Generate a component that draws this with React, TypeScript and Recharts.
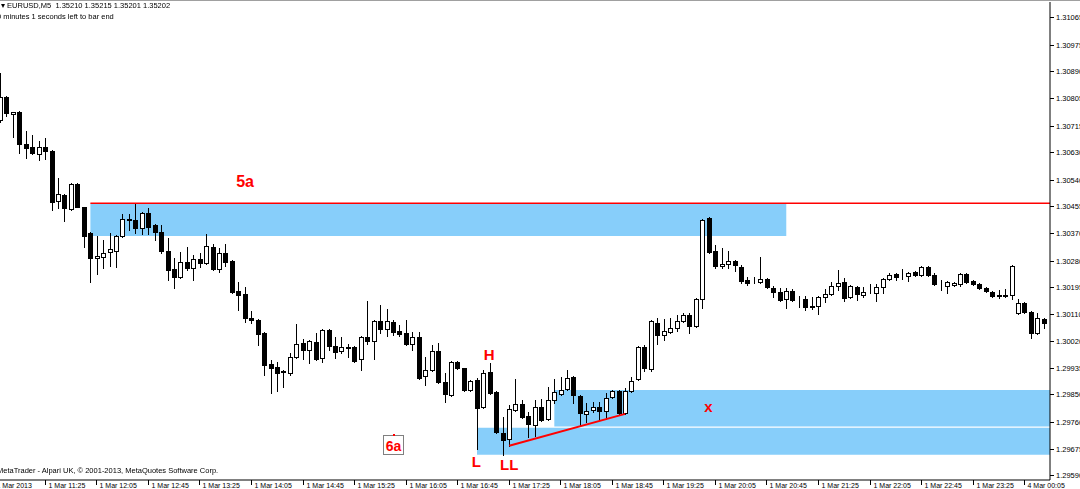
import React from "react";
import { Bar, ComposedChart, ReferenceArea, ReferenceDot, ReferenceLine, XAxis, YAxis } from "recharts";

// EURUSD M5, 1 Mar 2013 10:50 .. 4 Mar 00:25 (bar index 0..162)
const opens = [
  1.30734, 1.30808, 1.30753, 1.30759, 1.30656, 1.30647, 1.30624, 1.30647, 1.30634, 1.30473,
  1.30492, 1.30447, 1.30527, 1.30453, 1.3037, 1.30289, 1.30292, 1.30309, 1.30312, 1.3036,
  1.30415, 1.30412, 1.30386, 1.30434, 1.30396, 1.30373, 1.30312, 1.30254, 1.30228, 1.30276,
  1.30257, 1.30286, 1.30273, 1.30325, 1.30254, 1.30305, 1.3028, 1.30183, 1.30173, 1.30096,
  1.3009, 1.30048, 1.29948, 1.29938, 1.29925, 1.29919, 1.2997, 1.30016, 1.29993, 1.30019,
  1.29967, 1.30057, 1.30006, 1.2999, 1.30003, 1.30003, 1.29964, 1.30035, 1.30022, 1.30086,
  1.30061, 1.30083, 1.30054, 1.30048, 1.30012, 1.30035, 1.29909, 1.29929, 1.2999, 1.2989,
  1.29848, 1.29954, 1.29935, 1.29864, 1.29896, 1.29809, 1.29922, 1.29858, 1.29726, 1.29706,
  1.298, 1.29819, 1.2978, 1.29752, 1.2981, 1.29771, 1.29832, 1.29851, 1.29867, 1.29906,
  1.29845, 1.29787, 1.298, 1.2981, 1.29797, 1.29842, 1.29861, 1.2979, 1.29861, 1.299,
  1.30003, 1.29932, 1.3008, 1.30041, 1.30051, 1.30064, 1.30086, 1.30106, 1.3007, 1.30157,
  1.30418, 1.30312, 1.30263, 1.3027, 1.3028, 1.3026, 1.30218, 1.30212, 1.30212, 1.30222,
  1.30193, 1.3018, 1.30157, 1.30183, 1.30157, 1.30157, 1.30135, 1.30135, 1.30164, 1.30173,
  1.30199, 1.30212, 1.30164, 1.30196, 1.3017, 1.3018, 1.30177, 1.30196, 1.30222, 1.30238,
  1.30235, 1.30231, 1.30244, 1.30235, 1.3026, 1.30235, 1.30209, 1.30199, 1.30202, 1.30206,
  1.30238, 1.30215, 1.30206, 1.30193, 1.3018, 1.3017, 1.3017, 1.3017, 1.30112, 1.30144,
  1.30115, 1.30048, 1.30093,
];
const highs = [
  1.30885, 1.30811, 1.30759, 1.30763, 1.30698, 1.30685, 1.30666, 1.30676, 1.30637, 1.30547,
  1.30495, 1.30531, 1.3053, 1.30453, 1.30373, 1.3036, 1.30347, 1.3037, 1.30363, 1.30431,
  1.30431, 1.30466, 1.30437, 1.3045, 1.30399, 1.30396, 1.30354, 1.30289, 1.30309, 1.30325,
  1.30299, 1.30305, 1.30366, 1.30334, 1.30321, 1.30334, 1.30283, 1.30212, 1.30196, 1.30119,
  1.30093, 1.30051, 1.29961, 1.29954, 1.29929, 1.29983, 1.30077, 1.30028, 1.30025, 1.30048,
  1.30061, 1.30061, 1.30035, 1.30035, 1.30012, 1.30006, 1.30038, 1.30151, 1.3009, 1.30138,
  1.30125, 1.3009, 1.30074, 1.3009, 1.30051, 1.30051, 1.2997, 1.30009, 1.30016, 1.29919,
  1.29958, 1.29958, 1.29936, 1.29896, 1.29903, 1.29929, 1.29951, 1.29861, 1.29777, 1.29816,
  1.299, 1.29832, 1.29793, 1.29832, 1.29835, 1.29874, 1.299, 1.29906, 1.29929, 1.29909,
  1.29848, 1.29822, 1.29826, 1.29826, 1.29855, 1.29864, 1.29864, 1.29871, 1.29906, 1.30006,
  1.30009, 1.3009, 1.30096, 1.30093, 1.30096, 1.30106, 1.30112, 1.30112, 1.3016, 1.30415,
  1.30421, 1.30331, 1.30321, 1.30312, 1.30283, 1.30267, 1.30228, 1.30228, 1.30292, 1.30225,
  1.30199, 1.30193, 1.30193, 1.30189, 1.30167, 1.30167, 1.30164, 1.30167, 1.30189, 1.30212,
  1.30251, 1.30225, 1.30202, 1.30199, 1.30196, 1.30205, 1.30205, 1.30225, 1.30241, 1.30241,
  1.30254, 1.30244, 1.30247, 1.30263, 1.30263, 1.30241, 1.30218, 1.30215, 1.30212, 1.30241,
  1.30241, 1.30218, 1.30209, 1.30196, 1.30183, 1.30186, 1.30189, 1.30267, 1.30157, 1.30148,
  1.30119, 1.30112, 1.30096,
];
const lows = [
  1.30727, 1.30746, 1.30679, 1.30627, 1.30611, 1.30624, 1.30605, 1.30608, 1.30444, 1.3045,
  1.30408, 1.30444, 1.30453, 1.30325, 1.30212, 1.30238, 1.30257, 1.30263, 1.3026, 1.30357,
  1.30379, 1.3037, 1.30366, 1.30366, 1.30347, 1.30305, 1.30218, 1.30193, 1.30225, 1.30251,
  1.30218, 1.3026, 1.3027, 1.30251, 1.30244, 1.30263, 1.30177, 1.30122, 1.30083, 1.3008,
  1.30009, 1.29913, 1.29855, 1.29861, 1.29874, 1.29913, 1.29967, 1.29964, 1.29951, 1.29961,
  1.29954, 1.29993, 1.29967, 1.29983, 1.2997, 1.29954, 1.29929, 1.30012, 1.29964, 1.30048,
  1.30038, 1.30041, 1.30038, 1.30009, 1.29993, 1.299, 1.2988, 1.29925, 1.29887, 1.29826,
  1.29845, 1.29932, 1.29861, 1.29861, 1.29674, 1.29806, 1.29851, 1.29726, 1.29655, 1.29684,
  1.29797, 1.29774, 1.29713, 1.29716, 1.29764, 1.29768, 1.29822, 1.29848, 1.29864, 1.29822,
  1.29751, 1.29761, 1.29793, 1.29768, 1.29771, 1.29838, 1.29787, 1.29787, 1.29858, 1.29896,
  1.29925, 1.29925, 1.30012, 1.30025, 1.30048, 1.30054, 1.30083, 1.30048, 1.30067, 1.30128,
  1.30305, 1.30257, 1.30257, 1.30257, 1.30247, 1.30209, 1.30202, 1.30209, 1.30209, 1.30193,
  1.30164, 1.30151, 1.30128, 1.30151, 1.30131, 1.30122, 1.30125, 1.30109, 1.30148, 1.3017,
  1.30186, 1.30151, 1.3016, 1.30154, 1.30164, 1.30177, 1.30151, 1.30177, 1.30218, 1.30218,
  1.30222, 1.30215, 1.30231, 1.30231, 1.30231, 1.30202, 1.30186, 1.30177, 1.30199, 1.30199,
  1.30209, 1.30202, 1.30189, 1.3018, 1.30164, 1.3016, 1.30164, 1.30157, 1.30109, 1.30112,
  1.30032, 1.30045, 1.30064,
];
const closes = [
  1.30808, 1.30756, 1.30759, 1.30656, 1.30643, 1.30627, 1.30647, 1.30634, 1.3047, 1.30495,
  1.3045, 1.30527, 1.30453, 1.3036, 1.30289, 1.30296, 1.30305, 1.30318, 1.3036, 1.30415,
  1.30412, 1.30386, 1.30434, 1.30389, 1.30373, 1.30312, 1.30251, 1.30228, 1.30276, 1.30257,
  1.30286, 1.30273, 1.30328, 1.30254, 1.30305, 1.30276, 1.3018, 1.3017, 1.30096, 1.3009,
  1.30045, 1.29945, 1.29935, 1.29919, 1.29922, 1.2997, 1.30012, 1.29993, 1.30022, 1.29964,
  1.30057, 1.30006, 1.29987, 1.30003, 1.3, 1.29958, 1.30035, 1.30022, 1.30086, 1.30061,
  1.30086, 1.30051, 1.30045, 1.30012, 1.30035, 1.29903, 1.29929, 1.2999, 1.2989, 1.29851,
  1.29954, 1.29935, 1.29864, 1.29893, 1.29806, 1.29919, 1.29855, 1.29729, 1.29703, 1.29803,
  1.29819, 1.29777, 1.29755, 1.2981, 1.29768, 1.29832, 1.29858, 1.29864, 1.29903, 1.29848,
  1.2979, 1.29797, 1.2981, 1.29797, 1.29838, 1.29861, 1.2979, 1.29861, 1.29893, 1.30003,
  1.29935, 1.30086, 1.30041, 1.30054, 1.30064, 1.30086, 1.30106, 1.3007, 1.30157, 1.30412,
  1.30309, 1.30263, 1.3027, 1.3028, 1.30267, 1.30215, 1.30209, 1.30211, 1.30222, 1.30196,
  1.3018, 1.30154, 1.30183, 1.30154, 1.30156, 1.30131, 1.30131, 1.30164, 1.30173, 1.30199,
  1.30209, 1.3016, 1.30199, 1.30173, 1.3018, 1.30178, 1.30196, 1.30222, 1.30235, 1.30228,
  1.30233, 1.30241, 1.30235, 1.3026, 1.30235, 1.30206, 1.30207, 1.30212, 1.30209, 1.30238,
  1.30212, 1.30206, 1.30193, 1.30183, 1.30167, 1.30168, 1.30168, 1.30263, 1.30144, 1.30115,
  1.30048, 1.30096, 1.3008,
];

const timeTicks = [-1, 7, 15, 23, 31, 39, 47, 55, 63, 71, 79, 87, 95, 103, 111, 119, 127, 135, 143, 151, 159];
const timeLabels = [
  "1 Mar 2013", "1 Mar 11:25", "1 Mar 12:05", "1 Mar 12:45", "1 Mar 13:25", "1 Mar 14:05", "1 Mar 14:45",
  "1 Mar 15:25", "1 Mar 16:05", "1 Mar 16:45", "1 Mar 17:25", "1 Mar 18:05", "1 Mar 18:45", "1 Mar 19:25",
  "1 Mar 20:05", "1 Mar 20:45", "1 Mar 21:25", "1 Mar 22:05", "1 Mar 22:45", "1 Mar 23:25", "4 Mar 00:05",
];
const priceTicks = [
  1.31065, 1.30975, 1.3089, 1.30805, 1.30715, 1.3063, 1.3054, 1.30455, 1.3037,
  1.3028, 1.30195, 1.3011, 1.3002, 1.29935, 1.2985, 1.2976, 1.29675, 1.2959,
];

const rows = opens.map((o, i) => ({ i, o, h: highs[i], l: lows[i], c: closes[i] }));

const FONT = '"Liberation Sans", Arial, sans-serif';
const ZONE = "#87cefa";
const RED = "#ff0000";

function Candle(props: any) {
  const { x, y, width, height, payload } = props;
  const { o, h, l, c } = payload;
  const top = Math.min(y, y + height);
  const span = Math.abs(height);
  const py = (v: number) => (h === l ? top : top + ((h - v) / (h - l)) * span);
  const cx = Math.floor(x + width / 2);
  const bTop = Math.round(py(Math.max(o, c)));
  const bBot = Math.round(py(Math.min(o, c)));
  const up = c >= o;
  return (
    <g>
      <line x1={cx + 0.5} x2={cx + 0.5} y1={Math.round(top)} y2={Math.round(top + span) + 1} stroke="#000" strokeWidth={1} />
      <rect
        x={cx - 1.5}
        y={bTop + 0.5}
        width={4}
        height={Math.max(bBot - bTop, 0)}
        fill={up ? "#fff" : "#000"}
        stroke="#000"
        strokeWidth={1}
      />
    </g>
  );
}

function TimeTick(props: any) {
  const { x, y, payload } = props;
  const idx = timeTicks.indexOf(payload.value);
  const px = Math.floor(x) + 0.5;
  return (
    <g>
      <line x1={px} x2={px} y1={y} y2={y + 5} stroke="#000" />
      <text x={px + 3} y={y + 8} fontSize={7} fontFamily={FONT} fill="#000">
        {timeLabels[idx]}
      </text>
    </g>
  );
}

function PriceTick(props: any) {
  const { x, y, payload } = props;
  const py = Math.round(y) + 0.5;
  return (
    <g>
      <line x1={x} x2={x + 4} y1={py} y2={py} stroke="#000" />
      <text x={x + 6} y={py + 2.5} fontSize={7.5} fontFamily={FONT} fill="#000">
        {payload.value.toFixed(5)}
      </text>
    </g>
  );
}

function Mark({ text, size = 15 }: { text: string; size?: number }) {
  return (props: any) => {
    const { viewBox } = props;
    const cx = viewBox.x + viewBox.width / 2;
    const cy = viewBox.y + viewBox.height / 2;
    return (
      <text x={cx} y={cy} textAnchor="middle" dominantBaseline="central" fontSize={size} fontWeight="bold" fontFamily={FONT} fill={RED}>
        {text}
      </text>
    );
  };
}

function BoxMark(props: any) {
  const { viewBox } = props;
  const cx = viewBox.x + viewBox.width / 2;
  const cy = viewBox.y + viewBox.height / 2;
  return (
    <g>
      <rect x={Math.round(cx) - 10.5} y={Math.round(cy) - 9.5} width={20} height={19} fill="#fff" stroke="#808080" />
      <rect x={Math.round(cx) - 1} y={Math.round(cy) - 11} width={2} height={2} fill={RED} />
      <text x={cx} y={cy + 1} textAnchor="middle" dominantBaseline="central" fontSize={14} fontWeight="bold" fontFamily={FONT} fill={RED}>
        6a
      </text>
    </g>
  );
}

export default function App() {
  return (
    <div style={{ position: "fixed", left: 0, top: 0, width: 1080, height: 489, background: "#fff", fontFamily: FONT }}>
      <ComposedChart width={1080} height={489} data={rows} margin={{ top: 2, right: 0, bottom: 0, left: -6.44 }}>
        <XAxis
          dataKey="i"
          type="number"
          domain={[-1.03, 162.93]}
          allowDataOverflow
          ticks={timeTicks}
          interval={0}
          height={9}
          tickSize={0}
          tickMargin={0}
          tick={<TimeTick />}
          axisLine={{ stroke: "#000" }}
        />
        <YAxis
          orientation="right"
          type="number"
          domain={[1.29574, 1.31113]}
          allowDataOverflow
          ticks={priceTicks}
          interval={0}
          width={30}
          tickSize={0}
          tickMargin={0}
          tick={<PriceTick />}
          axisLine={{ stroke: "#000" }}
        />
        <ReferenceArea x1={14} x2={122} y1={1.3036} y2={1.30465} fill={ZONE} fillOpacity={1} stroke="none" />
        <ReferenceArea x1={74} x2={162.93} y1={1.29655} y2={1.29742} fill={ZONE} fillOpacity={1} stroke="none" />
        <ReferenceArea x1={86} x2={162.93} y1={1.29746} y2={1.29864} fill={ZONE} fillOpacity={1} stroke="none" />
        <ReferenceLine
          segment={[{ x: 14, y: 1.30465 }, { x: 162.93, y: 1.30465 }]}
          stroke={RED}
          strokeWidth={1.5}
        />
        <Bar dataKey={(d: any) => [d.l, d.h]} barSize={5} shape={<Candle />} isAnimationActive={false} />
        <ReferenceLine
          segment={[{ x: 79, y: 1.29684 }, { x: 97, y: 1.29787 }]}
          stroke={RED}
          strokeWidth={2}
        />
        <ReferenceDot x={38} y={1.30534} r={1} fill="none" stroke="none" label={Mark({ text: "5a", size: 16 })} />
        <ReferenceDot x={75.9} y={1.29977} r={1} fill="none" stroke="none" label={Mark({ text: "H" })} />
        <ReferenceDot x={73.9} y={1.29632} r={1} fill="none" stroke="none" label={Mark({ text: "L" })} />
        <ReferenceDot x={79} y={1.29623} r={1} fill="none" stroke="none" label={Mark({ text: "LL" })} />
        <ReferenceDot x={109.9} y={1.2981} r={1} fill="none" stroke="none" label={Mark({ text: "x" })} />
        <ReferenceDot x={61.06} y={1.29687} r={1} fill="none" stroke="none" label={BoxMark} />
      </ComposedChart>
      <div style={{ position: "absolute", left: 0, top: 0, width: 1080, height: 1, background: "#a0a0a0" }} />
      <div style={{ position: "absolute", left: 1, top: 1, fontSize: 7.5, lineHeight: "9px", whiteSpace: "pre", color: "#000" }}>
        {"▾ EURUSD,M5  1.35210 1.35215 1.35201 1.35202"}
      </div>
      <div style={{ position: "absolute", left: -3, top: 12, fontSize: 7.5, lineHeight: "9px", whiteSpace: "pre", color: "#000" }}>
        {"0 minutes 1 seconds left to bar end"}
      </div>
      <div style={{ position: "absolute", left: -3, top: 466, fontSize: 7.5, lineHeight: "9px", whiteSpace: "pre", color: "#000" }}>
        {"MetaTrader - Alpari UK, © 2001-2013, MetaQuotes Software Corp."}
      </div>
    </div>
  );
}
